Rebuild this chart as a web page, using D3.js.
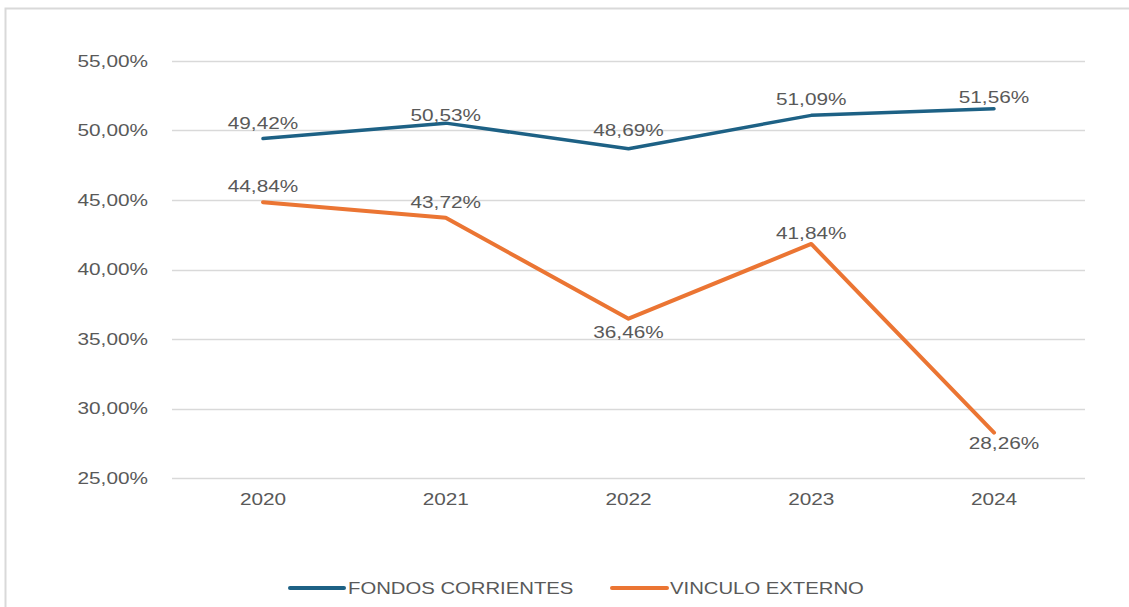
<!DOCTYPE html>
<html><head><meta charset="utf-8">
<script src="https://cdn.jsdelivr.net/npm/d3@7"></script>
<style>
body{margin:0;background:#fff;}
text{font-family:"Liberation Sans",Arial,sans-serif;fill:#595959;}
</style></head>
<body><svg id="c" width="1129" height="607"></svg>
<script>
const years = ["2020","2021","2022","2023","2024"];
const fondos = [49.42, 50.53, 48.69, 51.09, 51.56];
const vinculo = [44.84, 43.72, 36.46, 41.84, 28.26];
const yTicks = [25,30,35,40,45,50,55];
const seriesNames = ["FONDOS CORRIENTES","VINCULO EXTERNO"];
const colors = ["#1d6185","#eb7533"];
// label placement (vertical offset from point to text baseline)
const fondosDy = [-10, -2, -13, -10, -6];
const vinculoDy = [-10, -10, 19, -5, 16];

const svg = d3.select("#c");
const fmt = v => v.toFixed(2).replace(".", ",") + "%";
const SX = 1.3;

// border
svg.append("path").attr("d","M5.5,607 V8.5 H1129").attr("fill","none").attr("stroke","#d9d9d9").attr("stroke-width",2);

const x = d3.scalePoint().domain(years).range([263, 994]);
const y = d3.scaleLinear().domain([25,55]).range([478, 61]);
const xL = 172, xR = 1085;

function stext(g, tx, ty, str, anchor, size, sx){
  return g.append("text").attr("transform",`translate(${tx},${ty}) scale(${sx},1)`)
    .attr("text-anchor",anchor).attr("font-size",size).text(str);
}

const grid = svg.append("g");
yTicks.forEach(t=>{
  grid.append("line").attr("x1",xL).attr("x2",xR).attr("y1",Math.round(y(t))+0.5).attr("y2",Math.round(y(t))+0.5)
    .attr("stroke","#d9d9d9").attr("stroke-width",1.5);
  stext(svg, 148, y(t)+5.5, fmt(t), "end", 16, SX);
});
years.forEach(yr=>{
  stext(svg, x(yr), 505, yr, "middle", 16, SX);
});

const line = d3.line().x((d,i)=>x(years[i])).y(d=>y(d));
[fondos,vinculo].forEach((vals,k)=>{
  svg.append("path").datum(vals).attr("d",line).attr("fill","none")
    .attr("stroke",colors[k]).attr("stroke-width",k===0?3.5:4).attr("stroke-linejoin","round").attr("stroke-linecap","round");
});
[[fondos,fondosDy],[vinculo,vinculoDy]].forEach(([vals,dy],k)=>{
  vals.forEach((v,i)=>{
    const px = x(years[i]), py = y(v);
    const lx = (k===1 && i===4) ? px+10 : px;
    stext(svg, lx, py+dy[i], fmt(v), "middle", 16, SX);
  });
});

// legend
const leg = [[290,344,348],[612,667,670]];
leg.forEach(([a,b,t],k)=>{
  svg.append("line").attr("x1",a).attr("x2",b).attr("y1",588).attr("y2",588)
    .attr("stroke",colors[k]).attr("stroke-width",4).attr("stroke-linecap","round");
  stext(svg, t, 594, seriesNames[k], "start", 16.5, 1.23);
});
</script></body></html>
